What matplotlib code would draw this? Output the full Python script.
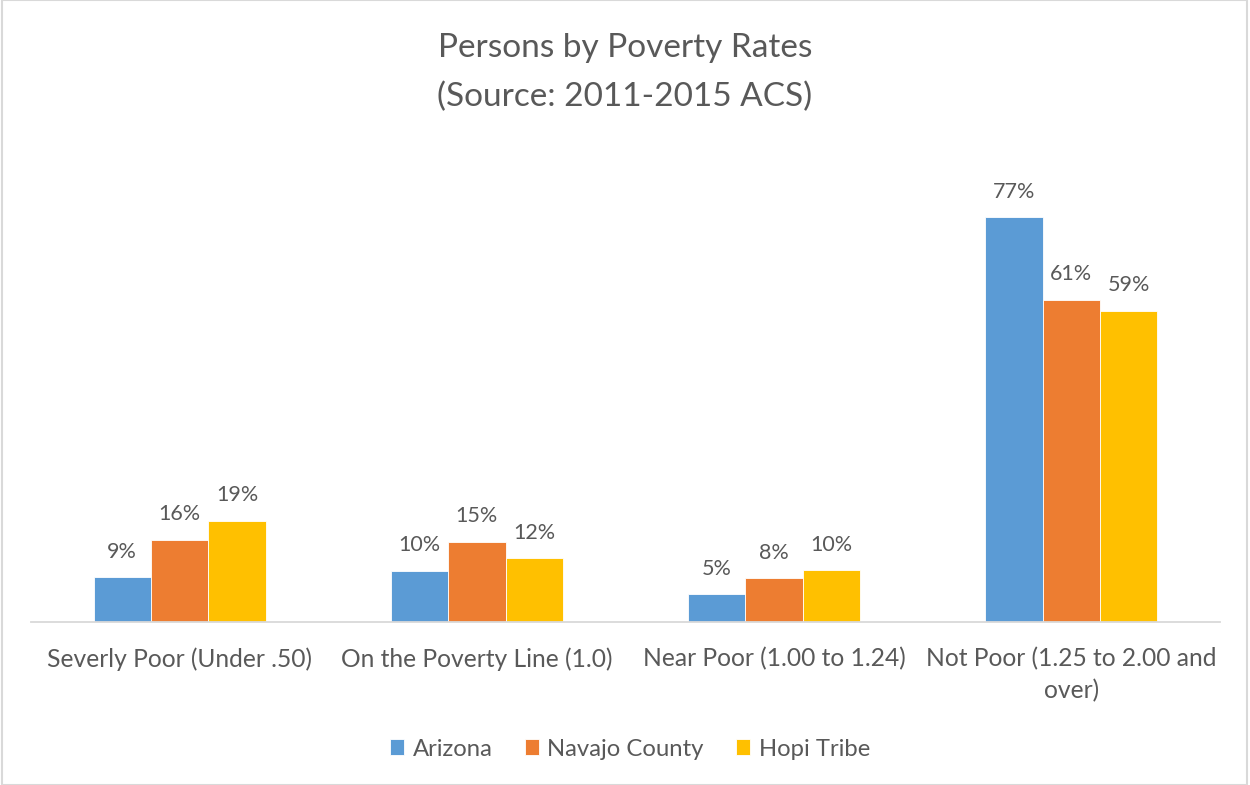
import matplotlib.pyplot as plt
import numpy as np
from matplotlib.patches import Rectangle

plt.rcParams['font.family'] = ['Lato', 'DejaVu Sans']

categories = ['Severly Poor (Under .50)', 'On the Poverty Line (1.0)',
              'Near Poor (1.00 to 1.24)', 'Not Poor (1.25 to 2.00 and\nover)']
arizona = [8.6, 9.8, 5.3, 77.1]
navajo = [15.7, 15.3, 8.4, 61.4]
hopi = [19.3, 12.2, 9.9, 59.3]
series_names = ['Arizona', 'Navajo County', 'Hopi Tribe']
colors = ['#5B9BD5', '#ED7D31', '#FFC000']
text_color = '#595959'

fig = plt.figure(figsize=(12.5, 7.85), dpi=100)
ax = fig.add_axes([31 / 1250, 163 / 785, 1189 / 1250, 462 / 785])

x = np.arange(len(categories))
width = 0.193
for i, (vals, name) in enumerate(zip([arizona, navajo, hopi], series_names)):
    pos = x + (i - 1) * width
    bars = ax.bar(pos, vals, width, color=colors[i], label=name,
                  edgecolor='white', linewidth=0.6)
    for b, v in zip(bars, vals):
        ax.text(b.get_x() + b.get_width() / 2, v + 2.9, f'{v:.0f}%',
                ha='center', va='bottom', fontsize=15.5, color=text_color)

ax.set_xlim(-0.5, len(categories) - 0.5)
ax.set_ylim(0, 88)
ax.set_yticks([])
for s in ['top', 'right', 'left']:
    ax.spines[s].set_visible(False)
ax.spines['bottom'].set_color('#D9D9D9')
ax.spines['bottom'].set_linewidth(1.3)
ax.set_xticks(x)
ax.set_xticklabels(categories, fontsize=17.7, color=text_color, linespacing=1.45)
ax.tick_params(axis='x', length=0, pad=18)

fig.suptitle('Persons by Poverty Rates\n(Source: 2011-2015 ACS)', y=1 - 33 / 785,
             fontsize=24, color=text_color, linespacing=1.78, va='top')

leg = fig.legend(loc='center', bbox_to_anchor=(0.504, 1 - 749 / 785), ncol=3,
                 frameon=False, fontsize=17.2, handlelength=0.6, handleheight=0.6,
                 handletextpad=0.35, columnspacing=1.35, labelcolor=text_color)

# chart border
fig.patches.append(Rectangle((2 / 1250, 0), 1245 / 1250, 1, transform=fig.transFigure,
                             fill=False, edgecolor='#D9D9D9', linewidth=1.5))

fig.savefig('out.png', dpi=100)
